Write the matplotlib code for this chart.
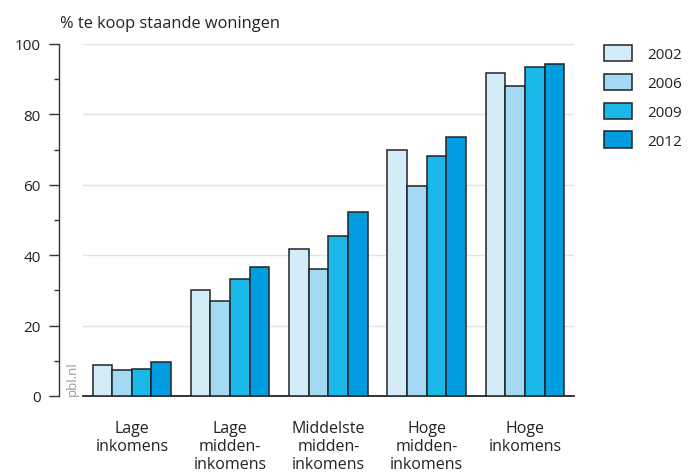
import matplotlib
matplotlib.use("Agg")
import matplotlib.pyplot as plt
import numpy as np

categories = ["Lage\ninkomens", "Lage\nmidden-\ninkomens", "Middelste\nmidden-\ninkomens",
              "Hoge\nmidden-\ninkomens", "Hoge\ninkomens"]
years = ["2002", "2006", "2009", "2012"]
v2002 = [8.8, 30.1, 41.8, 70.0, 91.9]
v2006 = [7.4, 27.0, 36.1, 59.7, 88.2]
v2009 = [7.7, 33.2, 45.5, 68.1, 93.4]
v2012 = [9.8, 36.6, 52.3, 73.7, 94.4]
series = [v2002, v2006, v2009, v2012]
colors = ["#d4ecf8", "#a3d9f3", "#1ab8e8", "#009ee0"]

plt.rcParams['font.family'] = ['Open Sans', 'DejaVu Sans']

fig = plt.figure(figsize=(6.9, 4.77), dpi=100)
ax = fig.add_axes([82.7/690, 1-397/477, (574-82.7)/690, (397-45)/477])

x = np.arange(len(categories))
w = 0.2
handles = []
for i, (vals, c, yr) in enumerate(zip(series, colors, years)):
    b = ax.bar(x + (i - 1.5) * w, vals, width=w, color=c, edgecolor="#222222",
               linewidth=1.1, label=yr, zorder=3)
    handles.append(b)

ax.set_xlim(-0.5, 4.5)
ax.set_ylim(0, 100)
ax.set_yticks([0, 20, 40, 60, 80, 100])
ax.set_yticks([10, 30, 50, 70, 90], minor=True)
ax.yaxis.grid(True, color="#e3e3e3", linewidth=1.0, zorder=0)
ax.set_axisbelow(True)

for s in ["top", "right"]:
    ax.spines[s].set_visible(False)
ax.spines["left"].set_position(("outward", 17))
ax.spines["left"].set_color("#333333")
ax.spines["left"].set_linewidth(1.0)
ax.spines["bottom"].set_color("#111111")
ax.spines["bottom"].set_linewidth(1.2)

ax.tick_params(axis="y", which="major", length=7.2, width=1.0, color="#333333",
               pad=6, labelsize=11, labelcolor="#222222")
ax.tick_params(axis="y", which="minor", length=3.6, width=1.0, color="#333333")
ax.set_xticks(x)
ax.set_xticklabels(categories, fontsize=11.5, color="#222222", linespacing=1.2)
ax.tick_params(axis="x", length=0, pad=17)

fig.text(60/690, 1-24/477, "% te koop staande woningen", fontsize=11.8,
         color="#222222", va="center", ha="left")

ax.text(72/690, 1-379/477, "pbl.nl", transform=fig.transFigure, rotation=90,
        fontsize=9.5, color="#999999", va="center", ha="center")

leg = fig.legend(handles=handles, labels=years, loc="upper left",
                 bbox_to_anchor=(604/690, 1-45.7/477), frameon=False,
                 borderpad=0, borderaxespad=0, handlelength=1.85, handleheight=1.3,
                 labelspacing=0.75, handletextpad=1.0, fontsize=11)
for t in leg.get_texts():
    t.set_color("#222222")

fig.savefig("out.png", dpi=100)
